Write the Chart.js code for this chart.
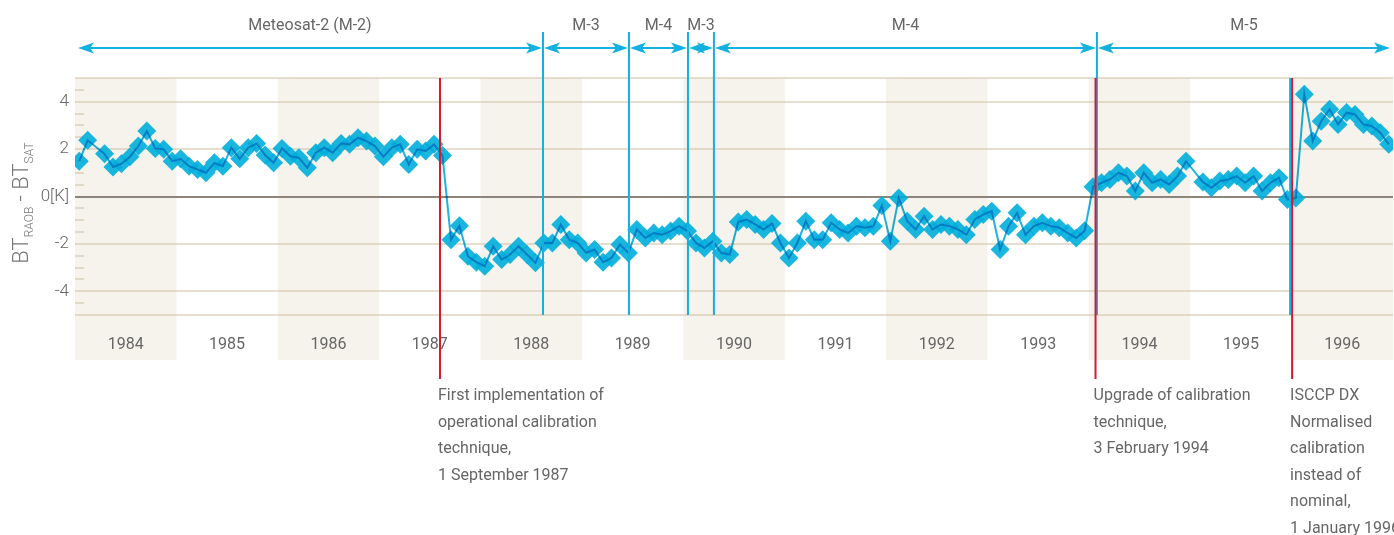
<!DOCTYPE html>
<html>
<head>
<meta charset="utf-8">
<script src="https://cdn.jsdelivr.net/npm/chart.js@4.4.1/dist/chart.umd.min.js"></script>
<style>
  html, body { margin: 0; padding: 0; background: #fff; }
  #wrap { width: 1394px; height: 535px; }
</style>
</head>
<body>
<div id="wrap"><canvas id="myChart" width="1394" height="535"></canvas></div>
<script>
// years on the x axis, every other one gets a shaded band
const years = [1984, 1985, 1986, 1987, 1988, 1989, 1990, 1991, 1992, 1993, 1994, 1995, 1996];
const shadedYears = [1984, 1986, 1988, 1990, 1992, 1994, 1996];

// monthly BT_RAOB - BT_SAT in K, Jan..Dec (null = no value)
const bt1984 = [1.49, 2.37, null, 1.80, 1.24, 1.38, 1.68, 2.13, 2.76, 2.03, 1.99, 1.49];
const bt1985 = [1.59, 1.28, 1.14, 1.00, 1.42, 1.28, 2.06, 1.59, 2.06, 2.24, 1.75, 1.42];
const bt1986 = [2.03, 1.70, 1.63, 1.21, 1.85, 2.06, 1.85, 2.24, 2.20, 2.48, 2.34, 2.13];
const bt1987 = [1.68, 2.06, 2.20, 1.35, 1.99, 1.92, 2.20, 1.73, -1.82, -1.23, -2.52, -2.77];
const bt1988 = [-2.94, -2.10, -2.66, -2.45, -2.10, -2.45, -2.80, -1.96, -1.96, -1.18, -1.82, -1.96];
const bt1989 = [-2.38, -2.24, -2.77, -2.59, -2.03, -2.38, -1.39, -1.75, -1.54, -1.61, -1.46, -1.25];
const bt1990 = [-1.46, -1.96, -2.17, -1.89, -2.38, -2.45, -1.08, -0.97, -1.18, -1.39, -1.14, -1.96];
const bt1991 = [-2.59, -1.96, -1.04, -1.82, -1.82, -1.11, -1.39, -1.54, -1.25, -1.32, -1.25, -0.38];
const bt1992 = [-1.89, -0.06, -1.04, -1.39, -0.83, -1.39, -1.18, -1.25, -1.39, -1.61, -0.97, -0.76];
const bt1993 = [-0.62, -2.24, -1.25, -0.69, -1.61, -1.25, -1.11, -1.25, -1.32, -1.54, -1.75, -1.45];
const bt1994 = [0.41, 0.58, 0.72, 1.00, 0.86, 0.23, 1.00, 0.58, 0.72, 0.51, 0.86, 1.49];
const bt1995 = [null, 0.61, 0.37, 0.65, 0.72, 0.86, 0.58, 0.86, 0.23, 0.58, 0.79, -0.13];
const bt1996 = [-0.06, 4.31, 2.34, 3.18, 3.68, 3.04, 3.54, 3.46, 3.04, 2.97, 2.69, 2.20];
const monthly = [bt1984, bt1985, bt1986, bt1987, bt1988, bt1989, bt1990, bt1991, bt1992, bt1993, bt1994, bt1995, bt1996];

// y axis
const yGrid = [-5, -4, -2, 0, 2, 4, 5];
const yMinor = [-4.5, -3.5, -3, -2.5, -1.5, -1, -0.5, 0.5, 1, 1.5, 2.5, 3, 3.5, 4.5];

// satellites in use (arrows on top), times as decimal years
const satBounds = [1984.02, 1988.616, 1989.464, 1990.046, 1990.302, 1994.08, 1996.98];
const satNames = ["Meteosat-2 (M-2)", "M-3", "M-4", "M-3", "M-4", "M-5"];
const satLines = [1988.616, 1989.464, 1990.046, 1990.302, 1994.08];
const satLineInside = [1995.985];

// calibration changes (red lines + notes)
const calibDates = [1987.6, 1994.066, 1996.005];
const calibNotes = [
  ["First implementation of", "operational calibration", "technique,", "1 September 1987"],
  ["Upgrade of calibration", "technique,", "3 February 1994"],
  ["ISCCP DX", "Normalised", "calibration", "instead of", "nominal,", "1 January 1996"]
];

const points = [];
years.forEach((yr, k) => {
  monthly[k].forEach((v, m) => {
    points.push({ x: yr + (m + 0.5) / 12, y: v });
  });
});

const TEXT = "#666";
const CYAN = "#14b1e0";
const RED = "#d8192b";
const NOTE_FONT = "16px Roboto";

function arrowHead(ctx, tipX, y, dir) {
  // dir = -1 points left, +1 points right
  ctx.beginPath();
  ctx.moveTo(tipX, y);
  ctx.lineTo(tipX - dir * 16, y - 5.5);
  ctx.lineTo(tipX - dir * 12, y);
  ctx.lineTo(tipX - dir * 16, y + 5.5);
  ctx.closePath();
  ctx.fill();
}

const decor = {
  id: "decor",
  beforeDraw(chart) {
    const { ctx, chartArea: a, scales: { x } } = chart;
    ctx.save();
    ctx.fillStyle = "#f6f3ec";
    shadedYears.forEach((yr) => {
      const x0 = x.getPixelForValue(yr);
      const x1 = x.getPixelForValue(yr + 1);
      ctx.fillRect(x0, a.top, x1 - x0, a.bottom + 45 - a.top);
    });
    ctx.restore();
  },
  beforeDatasetsDraw(chart) {
    const { ctx, chartArea: a, scales: { y } } = chart;
    ctx.save();
    ctx.strokeStyle = "rgba(200,185,150,0.45)";
    ctx.lineWidth = 2;
    yMinor.forEach((v) => {
      const py = Math.round(y.getPixelForValue(v));
      ctx.beginPath();
      ctx.moveTo(a.left, py);
      ctx.lineTo(a.left + 9, py);
      ctx.stroke();
    });
    ctx.restore();
  },
  // the connecting line is multiplied over the diamonds, so it shows dark on them
  beforeDatasetDraw(chart, args) {
    if (args.index === 0) {
      chart.ctx.save();
      chart.ctx.globalCompositeOperation = "multiply";
    }
  },
  afterDatasetDraw(chart, args) {
    if (args.index === 0) chart.ctx.restore();
  },
  afterDatasetsDraw(chart) {
    const { ctx, chartArea: a, scales: { x } } = chart;
    ctx.save();

    // blue satellite change lines
    ctx.strokeStyle = CYAN;
    ctx.lineWidth = 2;
    satLines.forEach((t) => {
      const px = x.getPixelForValue(t);
      ctx.beginPath();
      ctx.moveTo(px, 32);
      ctx.lineTo(px, a.bottom);
      ctx.stroke();
    });
    satLineInside.forEach((t) => {
      const px = x.getPixelForValue(t);
      ctx.beginPath();
      ctx.moveTo(px, a.top);
      ctx.lineTo(px, a.bottom);
      ctx.stroke();
    });

    // arrows and satellite names
    const ay = 48;
    ctx.font = NOTE_FONT;
    ctx.textAlign = "center";
    ctx.textBaseline = "alphabetic";
    satNames.forEach((name, i) => {
      const x0 = x.getPixelForValue(satBounds[i]);
      const x1 = x.getPixelForValue(satBounds[i + 1]);
      ctx.beginPath();
      ctx.moveTo(x0 + 4, ay);
      ctx.lineTo(x1 - 4, ay);
      ctx.stroke();
      ctx.fillStyle = CYAN;
      arrowHead(ctx, x0 + 1, ay, -1);
      arrowHead(ctx, x1 - 1, ay, 1);
      ctx.fillStyle = TEXT;
      ctx.fillText(name, (x0 + x1) / 2, 30);
    });

    // red calibration lines and notes
    ctx.strokeStyle = RED;
    ctx.lineWidth = 2;
    ctx.textAlign = "left";
    ctx.fillStyle = TEXT;
    calibDates.forEach((t, i) => {
      const px = x.getPixelForValue(t);
      ctx.beginPath();
      ctx.moveTo(px, a.top);
      ctx.lineTo(px, 379);
      ctx.stroke();
      calibNotes[i].forEach((line, j) => {
        ctx.fillText(line, px - 2, 400 + j * 26.5);
      });
    });

    // y axis title: BT_RAOB - BT_SAT, rotated
    const parts = [
      { t: "BT", f: "300 22px Roboto", dy: 0 },
      { t: "RAOB", f: "300 12px Roboto", dy: 5 },
      { t: " - BT", f: "300 22px Roboto", dy: 0 },
      { t: "SAT", f: "300 12px Roboto", dy: 5 }
    ];
    let total = 0;
    parts.forEach((p) => { ctx.font = p.f; p.w = ctx.measureText(p.t).width; total += p.w; });
    ctx.translate(28, 203);
    ctx.rotate(-Math.PI / 2);
    ctx.fillStyle = "#777";
    let cx = -total / 2;
    parts.forEach((p) => {
      ctx.font = p.f;
      ctx.fillText(p.t, cx, p.dy);
      cx += p.w;
    });
    ctx.restore();
  }
};

const cfg = {
  type: "line",
  data: {
    datasets: [
      {
        label: "line",
        data: points,
        borderColor: "#1eb2e2",
        borderWidth: 2,
        pointRadius: 0,
        spanGaps: true,
        tension: 0,
        order: 1
      },
      {
        label: "points",
        data: points,
        showLine: false,
        pointStyle: "rectRot",
        pointRadius: 9.5,
        backgroundColor: "rgba(0,174,220,0.9)",
        borderWidth: 0,
        order: 2
      }
    ]
  },
  options: {
    responsive: false,
    animation: false,
    layout: { autoPadding: false, padding: { top: 78, right: 1, left: 0, bottom: 0 } },
    plugins: { legend: { display: false }, tooltip: { enabled: false } },
    scales: {
      x: {
        type: "linear",
        min: 1984,
        max: 1997,
        afterFit: (s) => { s.height = 220; s.paddingLeft = 0; s.paddingRight = 0; },
        afterBuildTicks: (s) => { s.ticks = years.map((yr) => ({ value: yr + 0.5 })); },
        grid: { display: false },
        border: { display: false },
        ticks: {
          padding: 12,
          color: TEXT,
          autoSkip: false,
          maxRotation: 0,
          font: { family: "'Liberation Sans Narrow', Roboto, sans-serif", size: 16 },
          callback: (v) => String(Math.floor(v))
        }
      },
      y: {
        min: -5,
        max: 5,
        afterFit: (s) => { s.width = 75; s.paddingTop = 0; s.paddingBottom = 0; },
        afterBuildTicks: (s) => { s.ticks = yGrid.map((v) => ({ value: v })); },
        border: { display: false },
        grid: {
          drawTicks: false,
          lineWidth: 2,
          color: (c) => (c.tick.value === 0 ? "#8d847c" : "rgba(200,185,150,0.45)")
        },
        ticks: {
          padding: 6,
          color: TEXT,
          font: { family: "Roboto", size: 17, weight: 300 },
          callback: (v) => (Math.abs(v) === 5 ? "" : v === 0 ? "0[K]" : String(v))
        }
      }
    }
  },
  plugins: [decor]
};

new Chart(document.getElementById("myChart"), cfg);
</script>
</body>
</html>
